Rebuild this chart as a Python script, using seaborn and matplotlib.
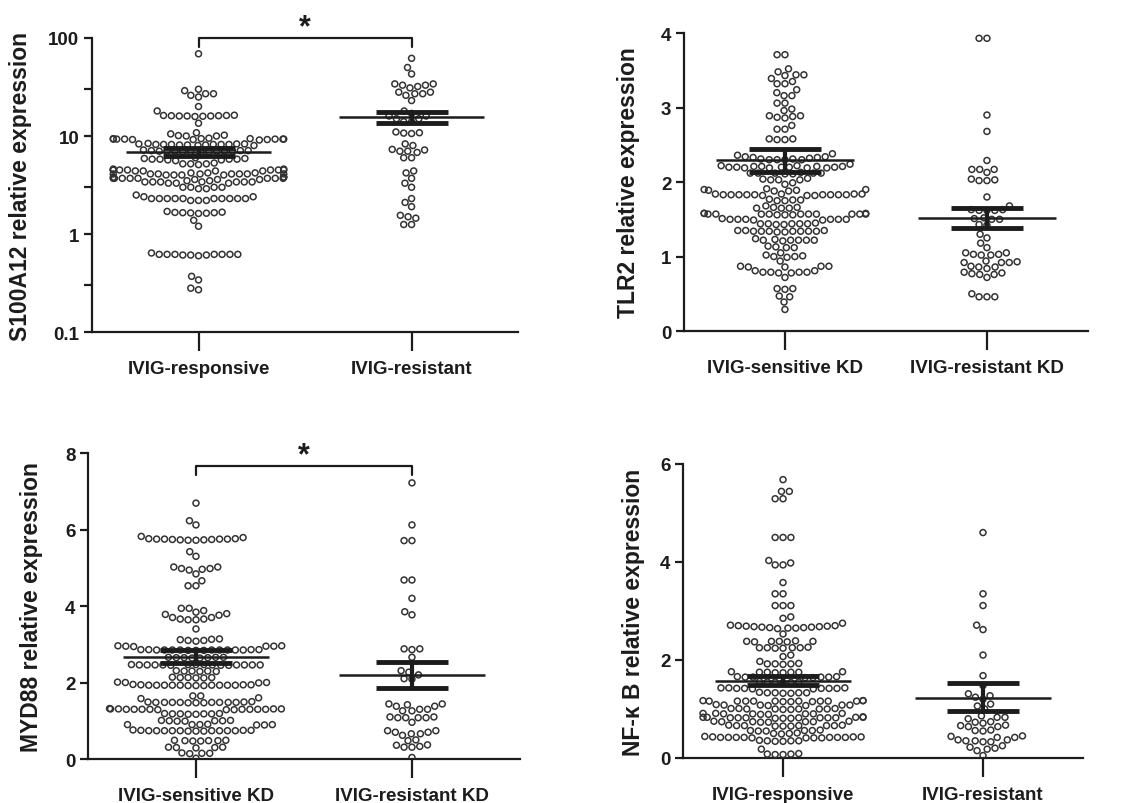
import matplotlib
matplotlib.use("Agg")
import matplotlib.pyplot as plt
import matplotlib.ticker as mticker
import pandas as pd
import seaborn as sns

# ---- values ----
s100a12_groups = ["IVIG-responsive", "IVIG-resistant"]
s100a12_responsive = [
    69.0,
    29.0, 27.0, 26.0, 25.0, 27.0, 30.0,
    20.0, 18.0, 13.5,
    16.2, 16.0, 16.1, 15.9, 16.0, 16.3, 16.0, 15.8, 16.1, 16.2,
    10.8, 10.1, 10.0, 10.0, 10.2, 10.5,
    9.4, 9.3, 9.2, 9.3, 9.4, 9.2, 9.3, 9.3, 9.4, 9.2, 9.3, 9.5, 9.1, 9.3,
    8.2, 8.3, 8.1, 8.2, 8.0, 8.3, 8.2, 8.1, 8.2, 8.4, 8.2, 8.0, 8.3, 8.1, 8.2,
    7.0, 7.1, 6.9, 7.0, 7.0, 7.2, 6.9, 7.0, 7.1, 6.8, 7.0, 7.0, 6.9, 7.1,
    5.8, 5.9, 5.7, 5.8, 5.8, 5.6, 5.8, 5.9, 5.7, 6.0,
    5.2, 5.3, 5.1, 5.2, 5.2,
    4.5, 4.5, 4.4, 4.6, 4.5, 4.4, 4.5, 4.5, 4.6, 4.4, 4.5, 4.5, 4.4,
    4.1, 4.1, 4.0, 4.1, 4.2, 4.1, 4.0, 4.1, 4.1, 4.2, 4.0, 4.1, 4.1, 4.0, 4.2,
    3.7, 3.7, 3.6, 3.7, 3.8, 3.7, 3.6, 3.7, 3.7, 3.8, 3.6, 3.7, 3.7, 3.8,
    3.4, 3.4, 3.3, 3.4, 3.4, 3.5, 3.3, 3.4, 3.4, 3.5, 3.3, 3.4,
    3.0, 3.0, 2.9, 3.0, 3.0, 2.9,
    2.5,
    2.3, 2.3, 2.2, 2.3, 2.3, 2.2, 2.3, 2.3, 2.3, 2.2, 2.3, 2.3, 2.4, 2.3, 2.4,
    1.65, 1.62, 1.66, 1.63, 1.65, 1.67, 1.64, 1.70,
    1.38, 1.20,
    0.62, 0.62, 0.61, 0.62, 0.62, 0.60, 0.61, 0.62, 0.61, 0.62, 0.62, 0.64,
    0.37, 0.34, 0.27, 0.28,
]
s100a12_resistant = [
    62.0, 50.0, 43.0,
    34.0, 33.0, 32.0, 31.0, 33.0, 34.0,
    28.0, 27.0, 26.0, 27.0, 28.0, 23.0,
    18.0, 17.0, 16.0, 16.0, 15.0, 15.0, 14.0, 14.0,
    11.0, 10.7, 10.6, 10.8,
    8.0, 8.3, 7.2, 7.0, 6.0, 6.0, 7.3, 7.0, 6.8,
    4.4, 4.2, 3.7, 3.3, 3.0,
    2.3, 2.1, 1.9,
    1.55, 1.5, 1.45, 1.25, 1.25,
]
s100a12_mean = [6.8, 15.6]
s100a12_sem_hi = [7.5, 17.6]
s100a12_sem_lo = [6.2, 13.5]
s100a12_ticks = [0.1, 1, 10, 100]
s100a12_ticklabels = ["0.1", "1", "10", "100"]

tlr2_groups = ["IVIG-sensitive KD", "IVIG-resistant KD"]
tlr2_sensitive = [
    3.71, 3.71,
    3.52, 3.44, 3.43, 3.44, 3.48,
    3.39, 3.32, 3.32, 3.35,
    3.20, 3.16, 3.16, 3.24,
    3.06, 3.06, 2.98, 2.96,
    2.89, 2.88, 2.86, 2.87, 2.89,
    2.71, 2.71, 2.76,
    2.58, 2.57, 2.57, 2.58,
    2.38,
    2.36, 2.34, 2.33, 2.31, 2.30, 2.30, 2.30, 2.30, 2.31, 2.32, 2.33, 2.34,
    2.22, 2.21, 2.21, 2.20, 2.20, 2.20, 2.19, 2.19, 2.19, 2.19, 2.20, 2.20,
    2.21, 2.21, 2.22, 2.24,
    2.12, 2.12, 2.11, 2.12, 2.13, 2.12, 2.11, 2.12,
    2.04, 2.03, 2.03, 2.03, 2.05,
    1.97, 1.99,
    1.90, 1.89, 1.88, 1.88, 1.89, 1.90, 1.91,
    1.84, 1.83, 1.83, 1.82, 1.83, 1.83, 1.82, 1.83, 1.83, 1.82, 1.83, 1.83,
    1.83, 1.84, 1.84, 1.84,
    1.75, 1.76, 1.76, 1.75, 1.77,
    1.66, 1.65, 1.65, 1.66, 1.65, 1.68,
    1.58, 1.57, 1.57, 1.57, 1.56, 1.57, 1.57, 1.56, 1.57, 1.57, 1.56, 1.57,
    1.57, 1.57, 1.58, 1.58,
    1.50, 1.50, 1.49, 1.50, 1.50, 1.51, 1.50, 1.49, 1.50,
    1.44, 1.44, 1.43, 1.44, 1.45, 1.44, 1.43, 1.44,
    1.35, 1.34, 1.34, 1.33, 1.34, 1.34, 1.33, 1.34, 1.34, 1.35, 1.34, 1.35,
    1.22, 1.22, 1.21, 1.22, 1.22, 1.23, 1.22, 1.24,
    1.13, 1.12, 1.12, 1.14,
    1.01, 1.00, 0.99, 1.00, 1.02, 1.05,
    0.94,
    0.87, 0.86, 0.86, 0.87, 0.87,
    0.81, 0.79, 0.78, 0.78, 0.79, 0.79, 0.79, 0.81,
    0.72,
    0.57, 0.56, 0.57,
    0.47, 0.46, 0.39, 0.29,
]
tlr2_resistant = [
    3.93, 3.93, 2.90, 2.68, 2.29,
    2.17, 2.17, 2.17, 2.13,
    2.04, 2.02, 2.02, 2.03,
    1.80,
    1.68, 1.63, 1.62, 1.62, 1.62, 1.63, 1.52, 1.51, 1.50, 1.50, 1.43, 1.42,
    1.30, 1.25, 1.18, 1.12,
    1.05, 1.03, 1.02, 1.02, 1.03, 1.05,
    0.94, 0.92, 0.92, 0.93, 0.92,
    0.87, 0.86, 0.86,
    0.84, 0.77, 0.76, 0.76, 0.78, 0.79,
    0.72,
    0.46, 0.46, 0.46, 0.50,
]
tlr2_mean = [2.29, 1.52]
tlr2_sem_hi = [2.44, 1.65]
tlr2_sem_lo = [2.13, 1.39]
tlr2_ticks = [0, 1, 2, 3, 4]

myd88_groups = ["IVIG-sensitive KD", "IVIG-resistant KD"]
myd88_sensitive = [
    6.69, 6.23, 6.12,
    5.82, 5.76, 5.75, 5.75, 5.74, 5.73, 5.72, 5.72, 5.73, 5.74, 5.75, 5.75,
    5.76, 5.79,
    5.42, 5.30,
    5.02, 4.98, 4.96, 4.84, 4.94, 4.98, 5.02,
    4.53, 4.53, 4.66,
    3.94, 3.88, 3.84, 3.76, 3.78, 3.80, 3.94,
    3.70, 3.66, 3.64, 3.66, 3.70, 3.64,
    3.40,
    3.14, 3.12, 3.10, 3.08, 3.10, 3.13,
    2.96, 2.95, 2.94, 2.95, 2.96, 2.95,
    2.86, 2.85, 2.85, 2.84, 2.85, 2.85, 2.86, 2.85, 2.85, 2.84, 2.85, 2.86,
    2.85, 2.85, 2.84, 2.86,
    2.66, 2.65, 2.64, 2.66, 2.65, 2.66, 2.64, 2.65,
    2.47, 2.46, 2.46, 2.45, 2.46, 2.46, 2.47, 2.46, 2.45, 2.46, 2.46, 2.47,
    2.46, 2.45, 2.46, 2.47,
    2.30, 2.29, 2.31, 2.30, 2.30, 2.29,
    2.13, 2.12, 2.14, 2.13, 2.12, 2.13,
    2.01, 2.00, 1.99, 2.00,
    1.94, 1.93, 1.93, 1.92, 1.93, 1.93, 1.94, 1.93, 1.92, 1.93, 1.93, 1.94,
    1.93, 1.92, 1.93, 1.95,
    1.65, 1.65,
    1.58, 1.48, 1.48, 1.47, 1.48, 1.48, 1.49, 1.48, 1.47, 1.48, 1.48, 1.49,
    1.48, 1.47, 1.50, 1.60,
    1.31, 1.30, 1.30, 1.29, 1.30, 1.30, 1.31, 1.30, 1.29, 1.30, 1.30, 1.31,
    1.30, 1.29, 1.31, 1.32,
    1.18, 1.17, 1.18, 1.19, 1.18, 1.17, 1.18, 1.19,
    1.01, 1.00, 0.99, 1.00, 1.01, 1.00, 0.99,
    0.90, 0.89, 0.90, 0.91, 0.90, 0.89, 0.90,
    0.75, 0.74, 0.74, 0.73, 0.74, 0.74, 0.75, 0.74, 0.73, 0.74, 0.74, 0.75,
    0.74, 0.73, 0.74, 0.76,
    0.49, 0.48, 0.47, 0.48, 0.48, 0.47, 0.49,
    0.31, 0.30, 0.29, 0.30, 0.31,
    0.15, 0.14, 0.15, 0.16, 0.02,
]
myd88_resistant = [
    7.22, 6.12, 5.71, 5.71, 4.68, 4.68, 4.20, 3.85, 3.77,
    2.88, 2.86, 2.88, 2.66,
    2.31, 2.27, 2.09, 2.10, 2.20,
    1.44, 1.38, 1.30, 1.26, 1.26, 1.30, 1.38, 1.42, 1.44,
    1.08, 1.10, 1.08, 1.08, 1.10, 1.08, 0.96,
    0.74, 0.70, 0.66, 0.62, 0.66, 0.70, 0.74,
    0.48, 0.36, 0.31, 0.31, 0.33, 0.37, 0.50,
    0.04,
]
myd88_mean = [2.66, 2.20]
myd88_sem_hi = [2.86, 2.53]
myd88_sem_lo = [2.51, 1.85]
myd88_ticks = [0, 2, 4, 6, 8]

nfkb_groups = ["IVIG-responsive", "IVIG-resistant"]
nfkb_responsive = [
    5.68, 5.44, 5.44, 5.29, 5.29,
    4.50, 4.50, 4.50,
    4.03, 3.94, 3.94, 3.98,
    3.58, 3.35, 3.35, 3.11, 3.11, 3.11,
    2.85, 2.88, 2.75,
    2.70, 2.69, 2.68, 2.67, 2.66, 2.65, 2.64, 2.65, 2.66, 2.67, 2.68, 2.69,
    2.70, 2.71, 2.53,
    2.38, 2.37, 2.38, 2.39, 2.38, 2.37, 2.38,
    2.25, 2.24, 2.25, 2.26, 2.25, 2.24, 2.25,
    2.07, 2.10,
    1.92, 1.91, 1.92, 1.93, 1.92, 1.97,
    1.75, 1.74, 1.75, 1.76, 1.75, 1.74, 1.75, 1.76,
    1.65, 1.64, 1.65, 1.66, 1.65, 1.64, 1.65, 1.66,
    1.55, 1.54, 1.55, 1.56, 1.55, 1.54,
    1.42, 1.41, 1.42, 1.43, 1.42, 1.41, 1.42, 1.43, 1.42, 1.43,
    1.33, 1.32, 1.33, 1.34, 1.33, 1.32, 1.33,
    1.16, 1.16, 1.15, 1.16, 1.17, 1.16, 1.15, 1.16, 1.16, 1.17, 1.16, 1.15,
    1.16, 1.16, 1.17,
    1.08, 1.07, 1.08, 1.09, 1.08, 1.07, 1.08,
    1.00, 1.01, 0.99, 1.00, 1.01, 1.00, 0.99, 1.00, 1.01, 1.00,
    0.90, 0.91, 0.89, 0.90, 0.91, 0.90, 0.89, 0.90, 0.91,
    0.82, 0.83, 0.82, 0.81, 0.82, 0.83, 0.82, 0.81, 0.82, 0.83, 0.82, 0.82,
    0.81, 0.83, 0.84,
    0.74, 0.73, 0.74, 0.75, 0.74, 0.73, 0.74, 0.75,
    0.66, 0.65, 0.66, 0.67, 0.66, 0.65, 0.66, 0.67, 0.66, 0.65,
    0.56, 0.55, 0.56, 0.57, 0.56, 0.55,
    0.50, 0.49, 0.50, 0.51,
    0.42, 0.41, 0.42, 0.43, 0.42, 0.41, 0.42, 0.43, 0.42, 0.41, 0.42, 0.43,
    0.42, 0.41, 0.44,
    0.35, 0.34, 0.35, 0.36, 0.35, 0.34,
    0.18, 0.08, 0.07, 0.08, 0.07, 0.09,
]
nfkb_resistant = [
    4.60, 3.35, 3.11, 2.71, 2.62, 2.10, 1.68,
    1.48, 1.31, 1.24, 1.27, 1.20, 1.10, 1.06, 1.00,
    0.83, 0.80, 0.83, 0.86,
    0.73, 0.67, 0.64, 0.64, 0.66, 0.71, 0.74,
    0.57, 0.55, 0.56,
    0.44, 0.42, 0.37, 0.35, 0.33, 0.33, 0.35, 0.37, 0.42, 0.45,
    0.22, 0.18, 0.25, 0.15, 0.20,
    0.05,
]
nfkb_mean = [1.58, 1.23]
nfkb_sem_hi = [1.68, 1.54]
nfkb_sem_lo = [1.49, 0.95]
nfkb_ticks = [0, 2, 4, 6]

# ---- style ----
sns.set_theme(style="ticks")
plt.rcParams["font.family"] = ["Liberation Sans", "DejaVu Sans"]
plt.rcParams["font.weight"] = "bold"
plt.rcParams["axes.labelweight"] = "bold"
INK = "#1c1c1c"


def make_df(groups, first, second):
    return pd.DataFrame({
        "group": [groups[0]] * len(first) + [groups[1]] * len(second),
        "value": first + second,
    })


def draw_panel(ax, df, groups, means, sem_hi, sem_lo, ylabel, label_x, log=False):
    sns.swarmplot(data=df, x="group", y="value", order=groups, ax=ax,
                  size=4.3, linewidth=1.1, color="white", edgecolor="0.25",
                  log_scale=True if log else None, warn_thresh=1)
    # open circles, like the Prism scatter dot plot
    for coll in ax.collections:
        coll.set_facecolor("none")
        coll.set_edgecolor("#333333")

    for i, g in enumerate(groups):
        ax.hlines(means[i], i - 0.34, i + 0.34, color=INK, lw=1.8, zorder=5)
        ax.errorbar(i, means[i],
                    yerr=[[means[i] - sem_lo[i]], [sem_hi[i] - means[i]]],
                    fmt="none", ecolor=INK, elinewidth=3, capsize=26,
                    capthick=3.5, zorder=6)

    ax.set_xlim(-0.5, 1.5)
    ax.set_xlabel("")
    ax.set_ylabel(ylabel, fontsize=16.5, color=INK)
    ax.yaxis.set_label_coords(label_x, 0.5)
    sns.despine(ax=ax)
    for side in ["left", "bottom"]:
        ax.spines[side].set_linewidth(1.6)
        ax.spines[side].set_color(INK)
    ax.tick_params(axis="y", which="both", length=6, width=1.6, pad=3,
                   labelsize=13.5, colors=INK)
    ax.tick_params(axis="x", length=14, width=1.6, pad=6, labelsize=13.5,
                   colors=INK)


fig = plt.figure(figsize=(11.47, 8.04), dpi=100)

# S100A12 (log scale)
ax1 = fig.add_axes([0.0802, 0.5858, 0.3715, 0.3657])
draw_panel(ax1, make_df(s100a12_groups, s100a12_responsive, s100a12_resistant),
           s100a12_groups, s100a12_mean, s100a12_sem_hi, s100a12_sem_lo,
           "S100A12 relative expression", -0.14, log=True)
ax1.set_yscale("log")
ax1.set_ylim(0.1, 100)
ax1.yaxis.set_major_locator(mticker.FixedLocator(s100a12_ticks))
ax1.yaxis.set_major_formatter(mticker.FixedFormatter(s100a12_ticklabels))
ax1.yaxis.set_minor_locator(mticker.FixedLocator([0.3, 3, 30]))
ax1.yaxis.set_minor_formatter(mticker.NullFormatter())
ax1.plot([0, 0, 1, 1], [81, 100, 100, 81], color=INK, lw=1.6, clip_on=False)
ax1.text(0.5, 128, "*", ha="center", va="center", fontsize=22, color=INK)

# TLR2
ax2 = fig.add_axes([0.5963, 0.587, 0.3522, 0.3706])
draw_panel(ax2, make_df(tlr2_groups, tlr2_sensitive, tlr2_resistant),
           tlr2_groups, tlr2_mean, tlr2_sem_hi, tlr2_sem_lo,
           "TLR2 relative expression", -0.109)
ax2.set_ylim(0, 4)
ax2.set_yticks(tlr2_ticks)

# MYD88
ax3 = fig.add_axes([0.0767, 0.0547, 0.3766, 0.3806])
draw_panel(ax3, make_df(myd88_groups, myd88_sensitive, myd88_resistant),
           myd88_groups, myd88_mean, myd88_sem_hi, myd88_sem_lo,
           "MYD88 relative expression", -0.104)
ax3.set_ylim(0, 8)
ax3.set_yticks(myd88_ticks)
ax3.plot([0, 0, 1, 1], [7.42, 7.66, 7.66, 7.42], color=INK, lw=1.6, clip_on=False)
ax3.text(0.5, 7.95, "*", ha="center", va="center", fontsize=22, color=INK)

# NF-kB
ax4 = fig.add_axes([0.5955, 0.056, 0.3487, 0.3657])
draw_panel(ax4, make_df(nfkb_groups, nfkb_responsive, nfkb_resistant),
           nfkb_groups, nfkb_mean, nfkb_sem_hi, nfkb_sem_lo,
           "NF-κ B relative expression", -0.095)
ax4.set_ylim(0, 6)
ax4.set_yticks(nfkb_ticks)

fig.savefig("out.png", dpi=100)
